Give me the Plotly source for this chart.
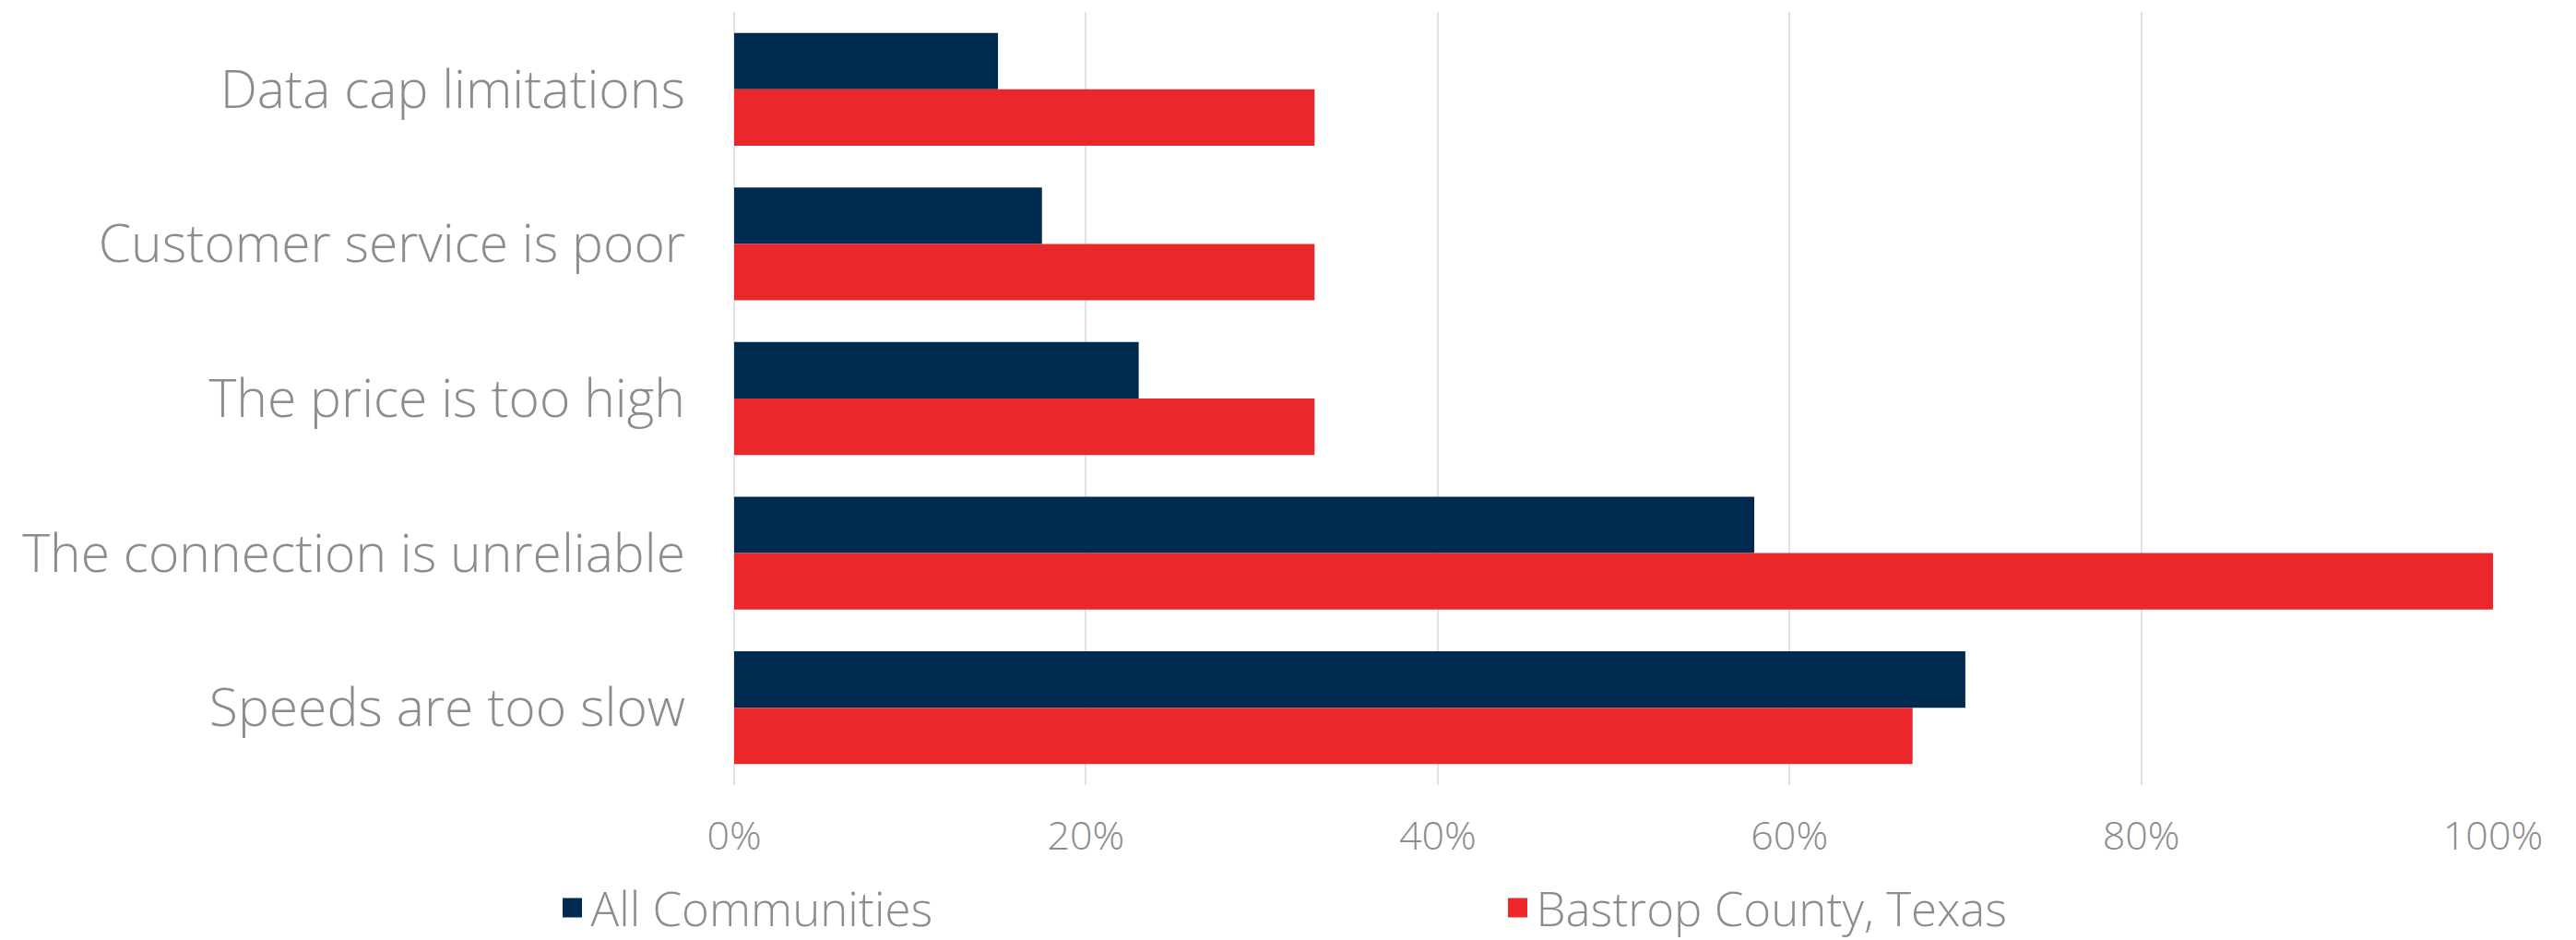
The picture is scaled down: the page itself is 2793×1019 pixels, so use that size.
import plotly.graph_objects as go

categories = ["Data cap limitations", "Customer service is poor", "The price is too high",
              "The connection is unreliable", "Speeds are too slow"]
all_communities = [0.15, 0.175, 0.23, 0.58, 0.70]
bastrop = [0.33, 0.33, 0.33, 1.00, 0.67]
series_names = ["All Communities", "Bastrop County, Texas"]
colors = ["#002b50", "#ec272b"]

FONT = "Open Sans"
GRAY = "#8c8c8c"

fig = go.Figure()
for name, vals, col in zip(series_names, [all_communities, bastrop], colors):
    fig.add_trace(go.Bar(y=categories, x=vals, orientation="h", name=name,
                         marker=dict(color=col, line=dict(width=0)), showlegend=False))
# legend proxies (larger square symbols)
for name, col in zip(series_names, colors):
    fig.add_trace(go.Scatter(x=[None], y=[None], mode="markers", name=name,
                             marker=dict(symbol="square", size=16, color=col,
                                         line=dict(width=5, color=col)),
                             showlegend=True))

fig.update_layout(
    width=2793, height=1019,
    margin=dict(l=796, r=90, t=13, b=168, autoexpand=False),
    paper_bgcolor="white", plot_bgcolor="white",
    barmode="group", bargap=0.27, bargroupgap=0,
    font=dict(family=FONT, color=GRAY, weight=300),
    legend=dict(orientation="h", x=-0.1025, xanchor="left", y=-0.159, yanchor="middle",
                font=dict(size=51, color=GRAY, family=FONT, weight=300),
                entrywidth=980, itemsizing="trace", traceorder="normal"),
    xaxis=dict(range=[0, 1.0], dtick=0.2, tickformat=".0%", showgrid=True,
               gridcolor="#e3e3e3", gridwidth=2, zeroline=True, zerolinecolor="#e3e3e3",
               zerolinewidth=2, showline=False, ticks="", ticklabelstandoff=26,
               tickfont=dict(size=43, color=GRAY, family=FONT, weight=300)),
    yaxis=dict(autorange="reversed", showgrid=False, zeroline=False, showline=False,
               ticks="", ticklabelstandoff=52,
               tickfont=dict(size=57, color=GRAY, family=FONT, weight=300)),
)

# remove the browser's default 8px body margin so the figure fills the window exactly
fig.write_html("out.html", config={"displayModeBar": False},
               post_script="document.body.style.margin='0';document.body.style.overflow='hidden';")
